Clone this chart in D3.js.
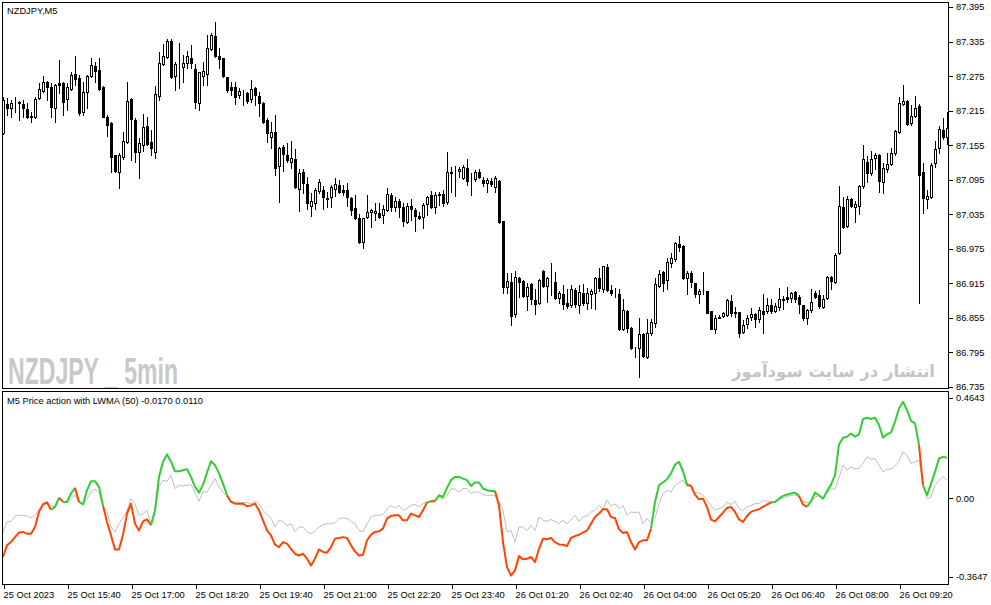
<!DOCTYPE html>
<html>
<head>
<meta charset="utf-8">
<style type="text/css">
body { margin: 0; background: #fff; }
svg { display: block; }
.frame { fill: none; stroke: #000; stroke-width: 1; shape-rendering: crispEdges; }
.axis text { font-family: "Liberation Sans", Arial, sans-serif; font-size: 9.3px; fill: #000; }
.axis line { stroke: #000; shape-rendering: crispEdges; }
.axis path { display: none; }
.label { font-family: "Liberation Sans", Arial, sans-serif; font-size: 9.3px; fill: #000; }
.wick { stroke: #000; stroke-width: 1; shape-rendering: crispEdges; }
.body { stroke: #000; stroke-width: 1; shape-rendering: crispEdges; }
.signal { fill: none; stroke: #c0c0c0; stroke-width: 1; }
.mainline { fill: none; stroke-width: 2; stroke-linejoin: round; }
</style>
<script src="https://d3js.org/d3.v7.min.js"></script>
</head>
<body>
<script type="text/javascript">
var width = 991;
var height = 605;

// time labels, one every 16 bars
var timeLabels = ["25 Oct 2023", "25 Oct 15:40", "25 Oct 17:00", "25 Oct 18:20", "25 Oct 19:40",
	"25 Oct 21:00", "25 Oct 22:20", "25 Oct 23:40", "26 Oct 01:20", "26 Oct 02:40",
	"26 Oct 04:00", "26 Oct 05:20", "26 Oct 06:40", "26 Oct 08:00", "26 Oct 09:20"];
var priceTicks = [87.395, 87.335, 87.275, 87.215, 87.155, 87.095, 87.035, 86.975, 86.915, 86.855, 86.795, 86.735];
var indTicks = [0.4643, 0, -0.3647];
var indTickLabels = ["0.4643", "0.00", "-0.3647"];

var opens = [87.176,87.227,87.220,87.228,87.228,87.227,87.218,87.204,87.204,87.237,
	87.249,87.265,87.256,87.220,87.263,87.263,87.235,87.253,87.279,87.272,
	87.213,87.247,87.275,87.293,87.286,87.256,87.204,87.193,87.138,87.108,
	87.134,87.160,87.235,87.199,87.143,87.155,87.188,87.160,87.143,87.240,
	87.296,87.308,87.336,87.275,87.294,87.291,87.298,87.306,87.287,87.228,
	87.275,87.279,87.322,87.345,87.310,87.306,87.273,87.256,87.256,87.242,
	87.246,87.246,87.235,87.254,87.240,87.228,87.199,87.169,87.178,87.119,
	87.152,87.138,87.126,87.131,87.079,87.108,87.088,87.049,87.055,87.075,
	87.077,87.063,87.065,87.079,87.086,87.077,87.077,87.063,87.046,87.028,
	86.987,87.030,87.039,87.037,87.037,87.034,87.042,87.068,87.048,87.058,
	87.048,87.021,87.049,87.042,87.032,87.030,87.053,87.068,87.048,87.068,
	87.070,87.056,87.107,87.110,87.110,87.098,87.115,87.095,87.096,87.108,
	87.095,87.089,87.093,87.082,87.093,87.023,86.909,86.917,86.862,86.924,
	86.919,86.893,86.914,86.886,86.881,86.936,86.910,86.921,86.917,86.889,
	86.896,86.881,86.877,86.903,86.877,86.898,86.881,86.896,86.898,86.924,
	86.905,86.943,86.903,86.900,86.896,86.836,86.867,86.837,86.802,86.802,
	86.827,86.787,86.829,86.846,86.910,86.935,86.921,86.950,86.957,86.983,
	86.980,86.924,86.933,86.915,86.896,86.902,86.902,86.867,86.836,86.855,
	86.858,86.860,86.884,86.865,86.865,86.830,86.844,86.856,86.862,86.853,
	86.867,86.867,86.877,86.867,86.874,86.888,86.891,86.889,86.900,86.891,
	86.877,86.855,86.869,86.898,86.895,86.874,86.889,86.926,86.917,86.968,
	87.048,87.015,87.062,87.048,87.049,87.084,87.126,87.107,87.133,87.138,
	87.091,87.114,87.122,87.141,87.178,87.227,87.232,87.193,87.206,87.223,
	87.108,87.062,87.065,87.124,87.150,87.181,87.169];
var highs = [87.239,87.237,87.233,87.239,87.232,87.233,87.228,87.213,87.239,87.263,
	87.275,87.266,87.263,87.261,87.303,87.265,87.263,87.282,87.310,87.277,
	87.265,87.277,87.306,87.299,87.306,87.258,87.207,87.195,87.138,87.141,
	87.178,87.265,87.237,87.202,87.167,87.209,87.204,87.181,87.258,87.317,
	87.331,87.339,87.339,87.299,87.333,87.312,87.319,87.329,87.296,87.282,
	87.299,87.346,87.350,87.369,87.324,87.306,87.273,87.265,87.265,87.254,
	87.251,87.247,87.268,87.256,87.247,87.230,87.202,87.195,87.207,87.152,
	87.155,87.159,87.162,87.148,87.114,87.114,87.100,87.072,87.081,87.096,
	87.084,87.074,87.086,87.098,87.095,87.086,87.089,87.065,87.068,87.035,
	87.028,87.068,87.044,87.055,87.055,87.051,87.081,87.072,87.065,87.062,
	87.055,87.055,87.062,87.046,87.039,87.055,87.067,87.075,87.074,87.074,
	87.077,87.143,87.117,87.119,87.117,87.121,87.131,87.107,87.112,87.114,
	87.100,87.098,87.098,87.101,87.095,87.023,86.933,86.933,86.936,86.926,
	86.921,86.915,86.915,86.905,86.922,86.938,86.926,86.950,86.935,86.902,
	86.912,86.905,86.912,86.907,86.912,86.914,86.907,86.905,86.926,86.942,
	86.945,86.949,86.912,86.907,86.905,86.888,86.869,86.839,86.804,86.855,
	86.829,86.853,86.853,86.924,86.938,86.936,86.959,86.968,86.987,86.997,
	86.982,86.936,86.936,86.915,86.905,86.935,86.902,86.867,86.860,86.860,
	86.865,86.888,86.895,86.874,86.865,86.851,86.860,86.872,86.863,86.874,
	86.896,86.889,86.888,86.881,86.907,86.893,86.909,86.900,86.902,86.895,
	86.877,86.870,86.905,86.902,86.903,86.895,86.928,86.928,86.968,87.084,
	87.065,87.067,87.063,87.058,87.086,87.155,87.136,87.145,87.141,87.140,
	87.124,87.141,87.150,87.181,87.239,87.260,87.233,87.225,87.240,87.227,
	87.124,87.077,87.124,87.162,87.188,87.202,87.213];
var lows = [87.174,87.207,87.204,87.213,87.199,87.204,87.202,87.195,87.202,87.235,
	87.247,87.233,87.204,87.195,87.246,87.207,87.216,87.251,87.260,87.207,
	87.207,87.220,87.273,87.265,87.251,87.204,87.171,87.108,87.108,87.081,
	87.131,87.159,87.129,87.126,87.098,87.145,87.155,87.138,87.133,87.233,
	87.294,87.306,87.272,87.251,87.254,87.265,87.289,87.289,87.220,87.216,
	87.260,87.260,87.320,87.308,87.289,87.273,87.247,87.242,87.227,87.237,
	87.225,87.228,87.230,87.225,87.206,87.193,87.160,87.150,87.103,87.056,
	87.110,87.126,87.115,87.081,87.041,87.072,87.044,87.032,87.044,87.072,
	87.044,87.048,87.048,87.067,87.072,87.068,87.049,87.034,87.027,86.985,
	86.976,87.028,87.013,87.025,87.028,87.020,87.041,87.041,87.041,87.030,
	87.015,87.020,87.025,87.006,87.027,87.011,87.034,87.046,87.037,87.051,
	87.049,87.053,87.074,87.067,87.100,87.096,87.086,87.068,87.093,87.098,
	87.084,87.074,87.084,87.074,87.020,86.898,86.898,86.843,86.856,86.891,
	86.891,86.869,86.879,86.862,86.879,86.909,86.882,86.895,86.888,86.881,
	86.870,86.872,86.874,86.874,86.863,86.877,86.870,86.872,86.870,86.902,
	86.900,86.902,86.895,86.891,86.834,86.834,86.830,86.801,86.787,86.752,
	86.787,86.785,86.825,86.839,86.909,86.902,86.905,86.943,86.954,86.971,
	86.922,86.896,86.909,86.891,86.881,86.896,86.863,86.836,86.829,86.855,
	86.856,86.858,86.858,86.856,86.822,86.829,86.837,86.851,86.839,86.848,
	86.829,86.863,86.863,86.865,86.869,86.870,86.882,86.882,86.882,86.863,
	86.851,86.844,86.865,86.889,86.872,86.872,86.888,86.905,86.915,86.966,
	87.011,87.013,87.048,87.021,87.035,87.081,87.091,87.103,87.114,87.074,
	87.072,87.108,87.121,87.138,87.176,87.225,87.190,87.190,87.204,86.881,
	87.037,87.046,87.063,87.117,87.141,87.166,87.157];
var closes = [87.233,87.220,87.228,87.228,87.230,87.220,87.204,87.206,87.235,87.253,
	87.265,87.256,87.221,87.260,87.260,87.230,87.256,87.277,87.270,87.211,
	87.247,87.275,87.294,87.284,87.253,87.204,87.190,87.134,87.110,87.138,
	87.162,87.232,87.200,87.143,87.159,87.187,87.157,87.150,87.244,87.298,
	87.310,87.336,87.273,87.296,87.294,87.298,87.310,87.298,87.230,87.282,
	87.284,87.324,87.346,87.310,87.305,87.275,87.251,87.251,87.239,87.249,
	87.246,87.232,87.253,87.242,87.228,87.195,87.176,87.178,87.115,87.150,
	87.140,87.129,87.133,87.082,87.107,87.089,87.055,87.058,87.077,87.091,
	87.065,87.062,87.082,87.088,87.074,87.074,87.065,87.042,87.028,86.987,
	87.028,87.039,87.042,87.041,87.030,87.044,87.070,87.048,87.058,87.048,
	87.023,87.049,87.044,87.032,87.028,87.051,87.065,87.048,87.068,87.070,
	87.055,87.108,87.108,87.110,87.114,87.117,87.093,87.095,87.108,87.100,
	87.089,87.095,87.088,87.098,87.021,86.909,86.919,86.858,86.926,86.917,
	86.893,86.909,86.888,86.879,86.921,86.910,86.924,86.921,86.889,86.898,
	86.879,86.875,86.905,86.879,86.900,86.881,86.898,86.902,86.924,86.907,
	86.945,86.903,86.898,86.900,86.836,86.869,86.837,86.802,86.802,86.827,
	86.788,86.829,86.848,86.914,86.931,86.915,86.952,86.959,86.985,86.978,
	86.924,86.933,86.917,86.896,86.902,86.902,86.863,86.836,86.855,86.856,
	86.863,86.886,86.863,86.863,86.829,86.843,86.855,86.862,86.853,86.869,
	86.862,86.877,86.867,86.875,86.888,86.886,86.888,86.898,86.888,86.879,
	86.855,86.869,86.882,86.891,86.875,86.888,86.926,86.919,86.964,87.049,
	87.013,87.062,87.049,87.053,87.084,87.131,87.107,87.131,87.138,87.093,
	87.115,87.122,87.141,87.180,87.228,87.232,87.192,87.206,87.220,87.103,
	87.063,87.067,87.121,87.148,87.183,87.169,87.185];

// indicator: main line and its LWMA(50) signal
var mainLine = [-0.272,-0.218,-0.203,-0.180,-0.159,-0.156,-0.164,-0.164,-0.133,-0.063,
	-0.029,-0.020,-0.053,-0.040,0.002,-0.017,-0.017,0.022,0.048,-0.017,
	-0.029,0.037,0.079,0.079,0.053,-0.033,-0.110,-0.172,-0.237,-0.237,
	-0.169,-0.071,-0.025,-0.118,-0.149,-0.107,-0.098,-0.125,-0.056,0.099,
	0.169,0.203,0.169,0.125,0.125,0.130,0.135,0.099,0.053,0.026,
	0.063,0.119,0.172,0.153,0.115,0.068,0.014,-0.017,-0.025,-0.025,
	-0.025,-0.037,-0.033,-0.025,-0.056,-0.102,-0.149,-0.172,-0.215,-0.226,
	-0.203,-0.210,-0.234,-0.257,-0.265,-0.257,-0.280,-0.311,-0.280,-0.237,
	-0.249,-0.252,-0.226,-0.187,-0.184,-0.180,-0.184,-0.218,-0.246,-0.265,
	-0.262,-0.195,-0.169,-0.156,-0.153,-0.141,-0.094,-0.082,-0.079,-0.079,
	-0.102,-0.102,-0.071,-0.079,-0.087,-0.056,-0.020,-0.014,-0.014,0.014,
	0.006,0.048,0.084,0.099,0.099,0.091,0.084,0.057,0.073,0.073,
	0.045,0.037,0.034,0.034,-0.033,-0.203,-0.319,-0.358,-0.334,-0.268,
	-0.283,-0.280,-0.272,-0.296,-0.234,-0.187,-0.190,-0.184,-0.203,-0.214,
	-0.215,-0.221,-0.184,-0.175,-0.169,-0.159,-0.149,-0.118,-0.087,-0.071,
	-0.051,-0.051,-0.087,-0.091,-0.144,-0.161,-0.156,-0.203,-0.237,-0.203,
	-0.195,-0.195,-0.141,-0.017,0.060,0.073,0.088,0.115,0.156,0.169,
	0.125,0.063,0.057,0.017,-0.005,-0.002,-0.040,-0.099,-0.107,-0.087,
	-0.067,-0.045,-0.040,-0.063,-0.098,-0.110,-0.082,-0.063,-0.056,-0.051,
	-0.040,-0.029,-0.020,-0.017,-0.002,0.011,0.017,0.022,0.026,0.011,
	-0.029,-0.040,-0.014,0.026,0.014,-0.002,0.033,0.063,0.107,0.249,
	0.280,0.285,0.300,0.285,0.296,0.367,0.373,0.367,0.373,0.339,
	0.280,0.296,0.305,0.354,0.416,0.447,0.409,0.358,0.347,0.246,
	0.060,0.014,0.068,0.122,0.184,0.192,0.187];
var signalLine = [-0.159,-0.110,-0.107,-0.082,-0.079,-0.079,-0.082,-0.091,-0.079,-0.051,
	-0.025,-0.014,-0.033,-0.040,-0.002,-0.014,-0.020,-0.005,0.014,-0.014,
	-0.029,-0.002,0.029,0.042,0.029,-0.040,-0.063,-0.133,-0.156,-0.118,
	-0.091,-0.056,-0.002,-0.025,-0.079,-0.071,-0.056,-0.118,-0.056,0.053,
	0.084,0.079,0.107,0.045,0.060,0.057,0.060,0.063,0.029,-0.014,
	0.029,0.029,0.060,0.091,0.053,0.029,0.006,-0.014,-0.017,-0.020,
	-0.020,-0.020,-0.025,-0.014,-0.025,-0.056,-0.076,-0.091,-0.133,-0.102,
	-0.107,-0.128,-0.118,-0.156,-0.133,-0.133,-0.156,-0.164,-0.153,-0.133,
	-0.122,-0.118,-0.118,-0.113,-0.094,-0.091,-0.094,-0.107,-0.118,-0.149,
	-0.156,-0.118,-0.087,-0.079,-0.079,-0.076,-0.051,-0.033,-0.045,-0.033,
	-0.056,-0.048,-0.033,-0.029,-0.040,-0.025,-0.017,-0.014,-0.002,0.006,
	-0.005,0.011,0.045,0.042,0.029,0.045,0.045,0.022,0.029,0.029,
	0.017,0.014,0.014,0.011,-0.017,-0.056,-0.156,-0.149,-0.203,-0.133,
	-0.133,-0.149,-0.125,-0.149,-0.087,-0.102,-0.107,-0.098,-0.107,-0.118,
	-0.102,-0.118,-0.102,-0.079,-0.107,-0.087,-0.082,-0.063,-0.056,-0.033,
	-0.048,-0.009,-0.036,-0.025,-0.048,-0.033,-0.079,-0.063,-0.067,-0.063,
	-0.118,-0.094,-0.113,-0.094,-0.025,0.022,0.037,0.029,0.060,0.073,
	0.084,0.053,0.063,0.022,0.026,0.014,-0.009,-0.033,-0.056,-0.048,
	-0.040,-0.017,-0.029,-0.014,-0.048,-0.056,-0.040,-0.033,-0.025,-0.025,
	-0.009,-0.017,-0.014,-0.020,-0.008,0.002,0.008,0.012,0.016,0.006,
	-0.014,-0.020,-0.014,0.006,0.011,-0.002,0.022,0.045,0.042,0.094,
	0.153,0.130,0.145,0.135,0.138,0.161,0.192,0.181,0.184,0.153,
	0.122,0.135,0.135,0.150,0.172,0.215,0.200,0.161,0.169,0.176,
	0.068,-0.002,0.006,0.060,0.084,0.102,0.084];

var n = closes.length;
var bars = d3.range(n).map(function(i) {
	return { i: i, o: opens[i], h: highs[i], l: lows[i], c: closes[i] };
});

var svg = d3.select("body").append("svg").attr("width", width).attr("height", height);
svg.append("rect").attr("width", width).attr("height", height).attr("fill", "#fff");

var x = d3.scaleLinear().domain([0, n - 1]).range([3, 3 + 4 * (n - 1)]);
var yTop = d3.scaleLinear().domain([86.735, 87.395]).range([387, 7]);
var yBot = d3.scaleLinear().domain([-0.3647, 0.4643]).range([577, 398]);

var defs = svg.append("defs");
defs.append("clipPath").attr("id", "clipTop").append("rect")
	.attr("x", 3).attr("y", 3).attr("width", 945).attr("height", 385);
defs.append("clipPath").attr("id", "clipBot").append("rect")
	.attr("x", 3).attr("y", 392).attr("width", 945).attr("height", 192);

// watermarks
svg.append("text").attr("x", 8).attr("y", 384)
	.attr("textLength", 170).attr("lengthAdjust", "spacingAndGlyphs")
	.style("font-family", "'Liberation Sans Narrow', 'Liberation Sans', Arial, sans-serif")
	.style("font-weight", "bold").style("font-size", "37px").style("fill", "#c8c8c8")
	.text("NZDJPY _ 5min");
svg.append("text").attr("x", 935).attr("y", 377).attr("text-anchor", "start")
	.attr("direction", "rtl")
	.style("font-family", "'DejaVu Sans', sans-serif")
	.style("font-weight", "bold").style("font-size", "16.5px").style("fill", "#c4c4c4")
	.text("انتشار در سایت سودآموز");

// candles
var candles = svg.append("g").attr("clip-path", "url(#clipTop)")
	.selectAll("g").data(bars).enter().append("g");
function cx(d) { return Math.round(x(d.i)) + 0.5; }
candles.append("line").attr("class", "wick")
	.attr("x1", cx).attr("x2", cx)
	.attr("y1", function(d) { return Math.round(yTop(d.h)); })
	.attr("y2", function(d) { return Math.round(yTop(d.l)) + 1; });
candles.append("rect").attr("class", "body")
	.attr("x", function(d) { return cx(d) - 1; })
	.attr("width", 2)
	.attr("y", function(d) { return Math.round(yTop(Math.max(d.o, d.c))) + 0.5; })
	.attr("height", function(d) { return Math.round(yTop(Math.min(d.o, d.c))) - Math.round(yTop(Math.max(d.o, d.c))); })
	.attr("fill", function(d) { return d.c >= d.o ? "#fff" : "#000"; });

// indicator
var gInd = svg.append("g").attr("clip-path", "url(#clipBot)");
var line = d3.line().x(function(d) { return x(d[0]); }).y(function(d) { return yBot(d[1]); });
gInd.append("path").attr("class", "signal")
	.attr("d", line(signalLine.map(function(v, i) { return [i, v]; })));

// split main line into runs coloured by main vs signal
var runs = [];
for (var i = 1; i < n; i++) {
	var up = mainLine[i] >= signalLine[i];
	var last = runs[runs.length - 1];
	if (!last || last.up !== up) {
		runs.push({ up: up, pts: [[i - 1, mainLine[i - 1]], [i, mainLine[i]]] });
	} else {
		last.pts.push([i, mainLine[i]]);
	}
}
gInd.selectAll("path.mainline").data(runs).enter().append("path")
	.attr("class", "mainline")
	.attr("stroke", function(d) { return d.up ? "#32cd32" : "#ff4500"; })
	.attr("d", function(d) { return line(d.pts); });

// frames
svg.append("rect").attr("class", "frame").attr("x", 2.5).attr("y", 2.5).attr("width", 946).attr("height", 386);
svg.append("rect").attr("class", "frame").attr("x", 2.5).attr("y", 391.5).attr("width", 946).attr("height", 193);

// axes
svg.append("g").attr("class", "axis").attr("transform", "translate(949,0)")
	.call(d3.axisRight(yTop).tickValues(priceTicks).tickSize(4).tickPadding(3).tickFormat(d3.format(".3f")));
svg.append("g").attr("class", "axis").attr("transform", "translate(949,0)")
	.call(d3.axisRight(yBot).tickValues(indTicks).tickSize(4).tickPadding(3)
		.tickFormat(function(d, i) { return indTickLabels[i]; }));
var tAxis = svg.append("g").attr("class", "axis").attr("transform", "translate(0,585)")
	.call(d3.axisBottom(x).tickValues(d3.range(0, n, 16)).tickSize(4).tickPadding(2)
		.tickFormat(function(d, i) { return timeLabels[i]; }));
tAxis.selectAll("text").attr("text-anchor", "start").attr("dx", "0");
tAxis.selectAll("line").attr("transform", "translate(0.5,0)");

// labels
svg.append("text").attr("class", "label").attr("x", 7).attr("y", 14).text("NZDJPY,M5");
svg.append("text").attr("class", "label").attr("x", 7).attr("y", 404)
	.text("M5 Price action with LWMA (50) -0.0170 0.0110");
</script>
</body>
</html>
